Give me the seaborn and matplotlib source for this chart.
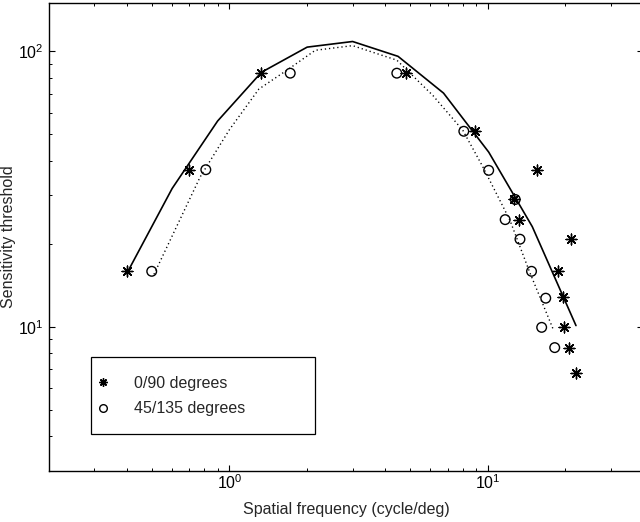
import numpy as np
import pandas as pd
import matplotlib
matplotlib.use("Agg")
import matplotlib.pyplot as plt
from matplotlib.lines import Line2D
from matplotlib.patches import Rectangle
import seaborn as sns

# --- Data ---
# 0/90 degrees measurements
freq_090 = [0.40, 0.70, 1.32, 4.81, 8.90, 15.6, 12.7, 13.2, 21.1, 18.8, 19.6, 19.8, 20.7, 22.1]
sens_090 = [15.9, 37.2, 83.4, 83.4, 51.3, 37.0, 29.0, 24.5, 20.8, 15.9, 12.8, 9.95, 8.4, 6.8]

# 45/135 degrees measurements
freq_45 = [0.50, 0.81, 1.72, 4.45, 8.09, 10.1, 12.8, 11.7, 13.35, 14.8, 16.8, 16.2, 18.2]
sens_45 = [15.9, 37.2, 83.4, 83.4, 51.3, 37.0, 29.0, 24.5, 20.8, 15.9, 12.7, 9.95, 8.4]

# fitted curves
fit_freq_090 = [0.40, 0.60, 0.90, 1.33, 2.0, 3.0, 4.5, 6.75, 10.1, 14.9, 22.0]
fit_sens_090 = [15.6, 31.8, 55.9, 84.0, 103.7, 108.7, 96.0, 70.6, 43.1, 23.1, 10.1]

fit_freq_45 = [0.51, 0.77, 1.0, 1.3, 1.7, 2.15, 3.0, 4.45, 6.14, 8.02, 9.6, 12.2, 14.55, 17.9]
fit_sens_45 = [15.5, 35.0, 52.0, 73.0, 86.5, 101.0, 105.0, 93.0, 69.2, 51.7, 38.0, 24.4, 15.8, 9.86]

legend_labels = ["0/90 degrees", "45/135 degrees"]

# --- Style ---
sns.set_theme(style="ticks")
plt.rcParams.update({
    "font.family": ["Liberation Sans", "DejaVu Sans"],
    "mathtext.default": "regular",
    "font.size": 11.5,
    "xtick.direction": "in",
    "ytick.direction": "in",
    "xtick.top": True,
    "ytick.right": True,
    "xtick.major.size": 4.3,
    "ytick.major.size": 4.3,
    "xtick.minor.size": 2.2,
    "ytick.minor.size": 2.2,
    "xtick.major.width": 0.8,
    "ytick.major.width": 0.8,
    "xtick.minor.width": 0.7,
    "ytick.minor.width": 0.7,
    "xtick.color": "black",
    "ytick.color": "black",
    "axes.edgecolor": "black",
    "axes.linewidth": 1.0,
})

fig = plt.figure(figsize=(6.4, 5.22), dpi=100)
ax = fig.add_axes([49 / 640, 51.3 / 522, 594 / 640, 467.7 / 522])

fit90 = pd.DataFrame({"f": fit_freq_090, "s": fit_sens_090})
fit45 = pd.DataFrame({"f": fit_freq_45, "s": fit_sens_45})
pts90 = pd.DataFrame({"f": freq_090, "s": sens_090})
pts45 = pd.DataFrame({"f": freq_45, "s": sens_45})

sns.lineplot(data=fit90, x="f", y="s", sort=False, estimator=None,
             color="black", linewidth=1.2, ax=ax)
sns.lineplot(data=fit45, x="f", y="s", sort=False, estimator=None,
             color="black", linewidth=1.0, dashes=False, ax=ax)
ax.lines[-1].set_dashes((0.9, 2.1))

star = (8, 2, 0)
sns.scatterplot(data=pts90, x="f", y="s", marker=star, s=60,
                color="black", linewidth=1.0, ax=ax, zorder=3)
sns.scatterplot(data=pts45, x="f", y="s", marker="o", s=48,
                color="black", facecolor="none", edgecolor="black",
                linewidth=1.0, ax=ax, zorder=3)

ax.set_xscale("log")
ax.set_yscale("log")
ax.set_xlim(0.2, 40)
ax.set_ylim(3, 150)

ax.tick_params(axis="both", which="major", labelsize=11.5)
ax.tick_params(axis="x", which="major", pad=2)
ax.tick_params(axis="y", which="major", pad=4)
ax.yaxis.set_minor_formatter(plt.NullFormatter())
ax.xaxis.set_minor_formatter(plt.NullFormatter())

for side in ["top", "right", "left", "bottom"]:
    ax.spines[side].set_visible(True)

ax.set_xlabel("Spatial frequency (cycle/deg)", fontsize=11.5, labelpad=7)
ax.set_ylabel("Sensitivity threshold", fontsize=11.5, labelpad=1)

# legend box (drawn separately so its size matches the reference)
box = Rectangle(((90.7 - 49) / 594, (470.7 - 434) / 467.7),
                (315 - 90.7) / 594, (434 - 356.7) / 467.7,
                transform=ax.transAxes, facecolor="white", edgecolor="black",
                linewidth=0.9, zorder=4)
ax.add_patch(box)

handles = [
    Line2D([], [], marker=star, linestyle="", color="black", markersize=6,
           markeredgewidth=1.0),
    Line2D([], [], marker="o", linestyle="", markerfacecolor="none",
           markeredgecolor="black", markersize=5.5, markeredgewidth=1.0),
]
leg = ax.legend(handles, legend_labels, loc="center left",
                bbox_to_anchor=((95.4 - 49) / 594, (470.7 - 396) / 467.7),
                frameon=False, fontsize=11.5, borderpad=0, labelspacing=0.65,
                handlelength=1.0, handletextpad=1.4, borderaxespad=0)
leg.set_zorder(5)

plt.savefig("out.png", dpi=100)
plt.close()
